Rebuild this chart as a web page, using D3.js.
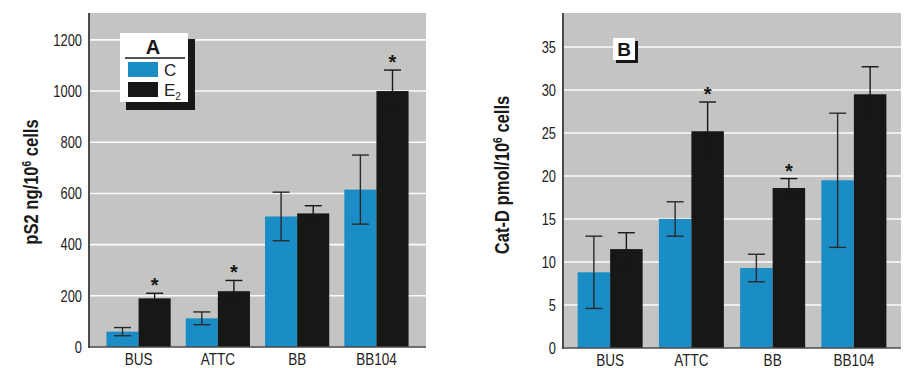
<!DOCTYPE html>
<html><head><meta charset="utf-8">
<script src="https://cdn.jsdelivr.net/npm/d3@7/dist/d3.min.js"></script>
<style>
html,body{margin:0;padding:0;background:#fff;}
svg{display:block;}
text{font-family:"Liberation Sans",Arial,sans-serif;}
</style></head>
<body><svg id="chart" width="906" height="368"></svg>
<script>
const categories = ["BUS", "ATTC", "BB", "BB104"];
// Panel A: pS2 ng/10^6 cells
const pS2Control = [60, 112, 510, 615];
const pS2ControlErr = [16, 25, 95, 135];
const pS2E2 = [190, 218, 522, 1000];
const pS2E2Err = [20, 42, 30, 82];
const pS2Signif = [true, true, false, true];
const pS2Ticks = [0, 200, 400, 600, 800, 1000, 1200];
// Panel B: Cat-D pmol/10^6 cells
const catDControl = [8.8, 15.0, 9.3, 19.5];
const catDControlErr = [4.2, 2.0, 1.6, 7.8];
const catDE2 = [11.5, 25.2, 18.6, 29.5];
const catDE2Err = [1.9, 3.4, 1.1, 3.2];
const catDSignif = [false, true, true, false];
const catDTicks = [0, 5, 10, 15, 20, 25, 30, 35];

const BLUE = "#1b8dc6", BLACK = "#161816", BG = "#c4c5c3", AXIS = "#4a4a4a";
const svg = d3.select("#chart");

function condense(sel, f) {
  sel.each(function () {
    const L = this.getComputedTextLength();
    d3.select(this).attr("textLength", L * f).attr("lengthAdjust", "spacingAndGlyphs");
  });
}

function panel(o) {
  const g = svg.append("g");
  const y = d3.scaleLinear().domain([0, o.yMax]).range([o.bottom, o.top]);
  const x = d3.scaleBand().domain(categories).range([o.left, o.right])
    .paddingInner(o.pi).paddingOuter(o.po);
  const half = x.bandwidth() / 2;
  g.append("rect").attr("x", o.left).attr("y", o.top)
    .attr("width", o.right - o.left).attr("height", o.bottom - o.top).attr("fill", BG);
  // gridlines
  g.selectAll(".grid").data(o.ticks.filter(t => t > 0)).join("line")
    .attr("x1", o.left).attr("x2", o.right)
    .attr("y1", d => y(d)).attr("y2", d => y(d))
    .attr("stroke", "#fbfbfb").attr("stroke-width", 1.6);
  // y axis
  const ya = d3.axisLeft(y).tickValues(o.ticks).tickSize(0).tickPadding(7).tickFormat(d3.format("d"));
  const yg = g.append("g").attr("transform", `translate(${o.left},0)`).call(ya);
  yg.select(".domain").remove();
  yg.selectAll("text").attr("font-size", 16.5).attr("fill", "#222")
    .style("font-family", '"Liberation Sans",Arial,sans-serif');
  condense(yg.selectAll("text"), 0.78);
  // x axis
  const xa = d3.axisBottom(x).tickSize(0).tickPadding(6);
  const xg = g.append("g").attr("transform", `translate(0,${o.bottom})`).call(xa);
  xg.select(".domain").remove();
  xg.selectAll("text").attr("font-size", 16.5).attr("fill", "#222")
    .style("font-family", '"Liberation Sans",Arial,sans-serif');
  condense(xg.selectAll("text"), 0.82);

  const rows = categories.map((c, i) => ({c, cv: o.c[i], ce: o.ce[i], ev: o.e[i], ee: o.ee[i], s: o.s[i]}));
  // bars
  g.selectAll(".barC").data(rows).join("rect")
    .attr("x", d => x(d.c)).attr("y", d => y(d.cv))
    .attr("width", half).attr("height", d => y(0) - y(d.cv)).attr("fill", BLUE);
  g.selectAll(".barE").data(rows).join("rect")
    .attr("x", d => x(d.c) + half).attr("y", d => y(d.ev))
    .attr("width", half).attr("height", d => y(0) - y(d.ev)).attr("fill", BLACK);
  // error bars
  const cap = 8.5;
  function err(key, ekey, off, color) {
    const eg = g.append("g").attr("stroke", color).attr("stroke-width", 1.4);
    rows.forEach(d => {
      const cx = x(d.c) + off;
      const hi = y(d[key] + d[ekey]), lo = y(d[key] - d[ekey]);
      eg.append("line").attr("x1", cx).attr("x2", cx).attr("y1", hi).attr("y2", lo);
      eg.append("line").attr("x1", cx - cap).attr("x2", cx + cap).attr("y1", hi).attr("y2", hi);
      eg.append("line").attr("x1", cx - cap).attr("x2", cx + cap).attr("y1", lo).attr("y2", lo);
    });
  }
  err("cv", "ce", half * 0.5, "#2a2a2a");
  err("ev", "ee", half * 1.5, BLACK);
  // significance stars
  g.selectAll(".star").data(rows.filter(d => d.s)).join("text")
    .attr("x", d => x(d.c) + half * 1.5).attr("y", d => y(d.ev + d.ee) - 1)
    .attr("text-anchor", "middle").attr("font-size", 20).attr("font-weight", "bold")
    .attr("fill", BLACK).text("*");
  // axis lines
  g.append("line").attr("x1", o.left).attr("x2", o.left).attr("y1", o.top).attr("y2", o.bottom + 1)
    .attr("stroke", AXIS).attr("stroke-width", 2);
  g.append("line").attr("x1", o.left).attr("x2", o.right).attr("y1", o.bottom).attr("y2", o.bottom)
    .attr("stroke", AXIS).attr("stroke-width", 1.5);
  // y label
  const t = g.append("text")
    .attr("transform", `translate(${o.labelX},${o.labelY}) rotate(-90) scale(0.85,1)`)
    .attr("text-anchor", "middle").attr("font-size", 19.5).attr("font-weight", "bold").attr("fill", "#1a1a1a");
  t.append("tspan").text(o.label1);
  t.append("tspan").attr("dy", -7).attr("font-size", 12).text("6");
  t.append("tspan").attr("dy", 7).text(" cells");
  return {g, x, y};
}

const A = panel({left: 89, right: 426, top: 13, bottom: 347, yMax: 1305, pi: 0.19, po: 0.22,
  c: pS2Control, ce: pS2ControlErr, e: pS2E2, ee: pS2E2Err, s: pS2Signif, ticks: pS2Ticks,
  label1: "pS2 ng/10", labelX: 38, labelY: 182});
const B = panel({left: 563, right: 901, top: 13, bottom: 348, yMax: 38.95, pi: 0.2, po: 0.18,
  c: catDControl, ce: catDControlErr, e: catDE2, ee: catDE2Err, s: catDSignif, ticks: catDTicks,
  label1: "Cat-D pmol/10", labelX: 509, labelY: 175});

// Legend box A
const lg = svg.append("g");
lg.append("rect").attr("x", 126).attr("y", 39).attr("width", 69).attr("height", 71).attr("fill", BLACK);
lg.append("rect").attr("x", 120).attr("y", 33).attr("width", 68).attr("height", 69).attr("fill", "#fff");
lg.append("text").attr("x", 153).attr("y", 54).attr("text-anchor", "middle")
  .attr("font-size", 20).attr("font-weight", "bold").attr("fill", BLACK).text("A");
lg.append("line").attr("x1", 125).attr("x2", 185).attr("y1", 58).attr("y2", 58).attr("stroke", BLACK).attr("stroke-width", 1.3);
const legendItems = [{name: "C", color: BLUE}, {name: "E", sub: "2", color: BLACK}];
legendItems.forEach((d, i) => {
  lg.append("rect").attr("x", 128).attr("y", 62 + i * 20).attr("width", 30).attr("height", 15).attr("fill", d.color);
  const tt = lg.append("text").attr("x", 164).attr("y", 76 + i * 20).attr("font-size", 17).attr("fill", "#222").text(d.name);
  if (d.sub) tt.append("tspan").attr("dy", 4).attr("font-size", 10).text(d.sub);
});
// Panel B label box
const lb = svg.append("g");
lb.append("rect").attr("x", 616).attr("y", 41).attr("width", 22).attr("height", 22).attr("fill", BLACK);
lb.append("rect").attr("x", 613).attr("y", 38).attr("width", 22).attr("height", 22).attr("fill", "#fff");
lb.append("text").attr("x", 624).attr("y", 56).attr("text-anchor", "middle")
  .attr("font-size", 19).attr("font-weight", "bold").attr("fill", BLACK).text("B");
</script></body></html>
